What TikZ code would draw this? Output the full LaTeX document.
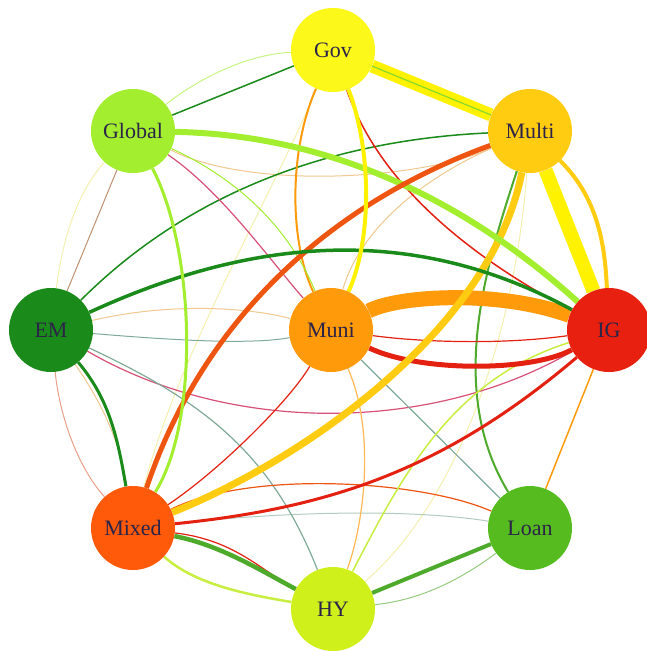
\documentclass[tikz,border=0pt]{standalone}
\usepackage{fontspec}
\setmainfont{Liberation Serif}
\usepackage{tikz}
\usetikzlibrary{backgrounds}
\definecolor{ink}{HTML}{2B2448}
\definecolor{govc}{HTML}{FCF81A}
\definecolor{globalc}{HTML}{A3EE2E}
\definecolor{multic}{HTML}{FFCC11}
\definecolor{emc}{HTML}{1A8A1A}
\definecolor{munic}{HTML}{FF9A0A}
\definecolor{igc}{HTML}{E82010}
\definecolor{mixedc}{HTML}{FF5A0A}
\definecolor{loanc}{HTML}{55BB1E}
\definecolor{hyc}{HTML}{D0F01C}
\definecolor{eyel}{HTML}{FFF200}
\definecolor{eora}{HTML}{FF9A0A}
\definecolor{egold}{HTML}{FFCC11}
\definecolor{ered}{HTML}{E42010}
\definecolor{eorr}{HTML}{EE5511}
\definecolor{egrl}{HTML}{A3EE2E}
\definecolor{egrd}{HTML}{1A8A1A}
\definecolor{egrm}{HTML}{4EAA2A}
\definecolor{eteal}{HTML}{80AA98}
\definecolor{epink}{HTML}{D85078}
\definecolor{esalm}{HTML}{E8A088}
\definecolor{eyg}{HTML}{C8EE40}
\definecolor{etan}{HTML}{F0C890}
\definecolor{ebrown}{HTML}{C09070}
\definecolor{efaint}{HTML}{F4F0B0}

\begin{document}
\begin{tikzpicture}[x=1pt,y=-1pt,font=\fontsize{22}{25}\selectfont,
  fund/.style={circle,minimum size=84pt,inner sep=0pt,text=ink},
  lnk/.style={line width=#1pt}]
\useasboundingbox (0,0) rectangle (646,651);
% funds
\node[fund,fill=govc] (Gov) at (333,50) {Gov};
\node[fund,fill=globalc] (Global) at (133,131) {Global};
\node[fund,fill=multic] (Multi) at (530,131) {Multi};
\node[fund,fill=emc] (EM) at (51,330) {EM};
\node[fund,fill=munic] (Muni) at (331,330) {Muni};
\node[fund,fill=igc] (IG) at (609,330) {IG};
\node[fund,fill=mixedc] (Mixed) at (133,528) {Mixed};
\node[fund,fill=loanc] (Loan) at (530,528) {Loan};
\node[fund,fill=hyc] (HY) at (333,609) {HY};
\begin{scope}[on background layer]
\fill[white] (0,0) rectangle (646,651);
% faint links
\draw[efaint,lnk=1] (Global) .. controls (70,200) and (60,260) .. (EM);
\draw[efaint,lnk=1] (Gov) .. controls (270,200) and (180,350) .. (Mixed);
\draw[efaint,lnk=1] (Multi) .. controls (515,330) and (460,500) .. (HY);
\draw[etan,lnk=1] (Global) .. controls (250,190) and (420,180) .. (Multi);
\draw[etan,lnk=1] (Multi) .. controls (420,180) and (360,230) .. (Muni);
\draw[etan,lnk=1] (EM) .. controls (180,300) and (260,310) .. (Muni);
\draw[eteal!60,lnk=1] (Mixed) .. controls (300,510) and (420,510) .. (Loan);
\draw[egrl!60,lnk=1] (Gov) .. controls (240,55) and (190,85) .. (Global);
% thin links
\draw[egrd,lnk=1.5] (Global) -- (Gov);
\draw[egrd,lnk=1.5] (Multi) .. controls (335,140) and (191,190) .. (EM);
\draw[ered,lnk=1.5] (Gov) .. controls (381,189) and (479,262) .. (IG);
\draw[eora,lnk=2] (Gov) .. controls (289,150) and (289,240) .. (Muni);
\draw[ered,lnk=1.2] (Multi) .. controls (560,220) and (590,260) .. (IG);
\draw[egrm,lnk=2] (Multi) .. controls (485,268) and (447,391) .. (Loan);
\draw[epink,lnk=1.2] (EM) .. controls (230,434) and (430,434) .. (IG);
\draw[eteal,lnk=1] (EM) .. controls (170,340) and (250,345) .. (Muni);
\draw[eteal,lnk=1.2] (EM) .. controls (200,400) and (270,450) .. (HY);
\draw[eteal,lnk=1.2] (Muni) -- (Loan);
\draw[esalm,lnk=1] (EM) .. controls (60,420) and (80,470) .. (Mixed);
\draw[etan,lnk=1] (EM) .. controls (100,400) and (120,440) .. (Mixed);
\draw[ebrown,lnk=1] (Global) -- (EM);
\draw[epink,lnk=1.2] (Global) .. controls (220,190) and (270,260) .. (Muni);
\draw[egrl,lnk=1] (Global) .. controls (240,180) and (290,230) .. (Muni);
\draw[ered,lnk=1.2] (Mixed) .. controls (220,470) and (290,400) .. (Muni);
\draw[eorr,lnk=1.2] (Mixed) .. controls (250,470) and (420,480) .. (Loan);
\draw[eyg,lnk=1.5] (IG) .. controls (450,380) and (400,480) .. (HY);
\draw[eora,lnk=1.5] (IG) -- (Loan);
\draw[eora!70,lnk=1.2] (Muni) .. controls (375,430) and (365,520) .. (HY);
\draw[egrm!60,lnk=1] (HY) .. controls (420,600) and (460,580) .. (Loan);
\draw[ered,lnk=1.2] (Muni) .. controls (420,342) and (500,345) .. (IG);
\draw[ered,lnk=1.2] (Mixed) .. controls (235,540) and (260,570) .. (HY);
% thick links
\draw[eora,lnk=15] (Muni) .. controls (400,295) and (500,290) .. (IG);
\draw[eyel,lnk=13] (Gov) -- (Multi);
\draw[egrl!80!egrd,lnk=1.2] (Gov) -- (Multi);
\draw[eyel,lnk=14] (Multi) -- (IG);
\draw[egold,lnk=4] (Multi) .. controls (600,200) and (605,250) .. (IG);
\draw[ered,lnk=5] (Muni) .. controls (420,372) and (530,372) .. (IG);
\draw[egold,lnk=7] (Multi) .. controls (490,334) and (296,463) .. (Mixed);
\draw[egrl,lnk=6] (Global) .. controls (330,135) and (465,200) .. (IG);
\draw[eorr,lnk=5] (Multi) .. controls (329,204) and (203,320) .. (Mixed);
\draw[egrd,lnk=3.5] (EM) .. controls (253,237) and (413,223) .. (IG);
\draw[egrd,lnk=3] (EM) .. controls (110,400) and (118,440) .. (Mixed);
\draw[egrl,lnk=3] (Global) .. controls (195,250) and (200,420) .. (Mixed);
\draw[eyel,lnk=4] (Gov) .. controls (372,150) and (372,240) .. (Muni);
\draw[ered,lnk=3] (Mixed) .. controls (330,508) and (444,470) .. (IG);
\draw[egrm,lnk=4.5] (Mixed) .. controls (220,545) and (260,570) .. (HY);
\draw[egrm,lnk=4] (HY) -- (Loan);
\draw[eyg,lnk=2.5] (Mixed) .. controls (195,585) and (250,595) .. (HY);
\end{scope}
\end{tikzpicture}
\end{document}
